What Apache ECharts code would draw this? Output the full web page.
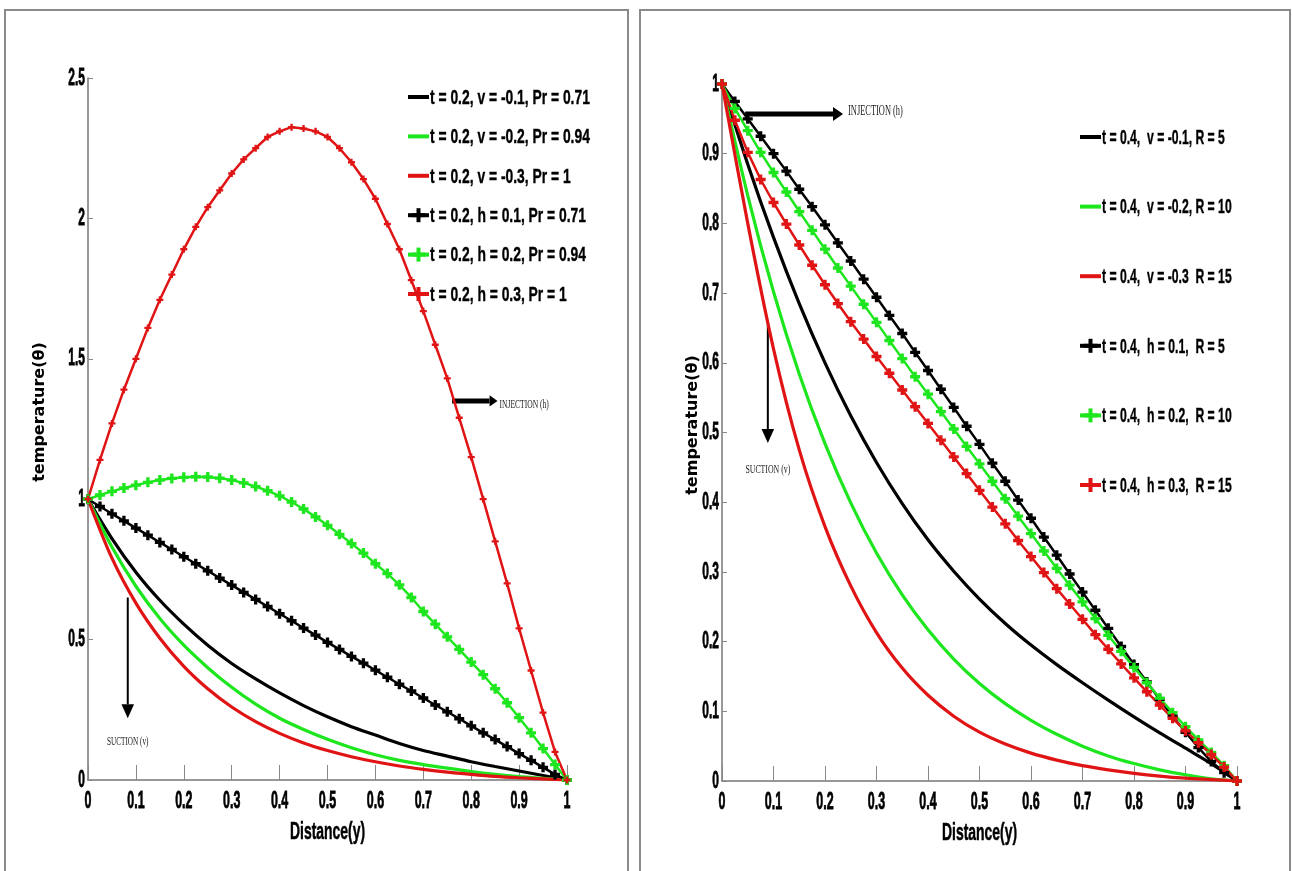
<!DOCTYPE html>
<html><head><meta charset="utf-8">
<script src="https://cdn.jsdelivr.net/npm/echarts@6/dist/echarts.min.js"></script>
<style>html,body{margin:0;padding:0;background:#fff;}#c{width:1292px;height:871px;}</style>
</head><body><div id="c"></div>
<script>
// ---------- shared x grids ----------
const xCoarse = [0,0.05,0.1,0.15,0.2,0.25,0.3,0.35,0.4,0.45,0.5,0.55,0.6,0.65,0.7,0.75,0.8,0.85,0.9,0.95,1];
const xFine = [0,0.025,0.05,0.075,0.1,0.125,0.15,0.175,0.2,0.225,0.25,0.275,0.3,0.325,0.35,0.375,0.4,0.425,0.45,0.475,0.5,
  0.525,0.55,0.575,0.6,0.625,0.65,0.675,0.7,0.725,0.75,0.775,0.8,0.825,0.85,0.875,0.9,0.925,0.95,0.975,1];

// ---------- tick labels ----------
const xTickValues = [0,0.1,0.2,0.3,0.4,0.5,0.6,0.7,0.8,0.9,1];
const xTickLabels = ['0','0.1','0.2','0.3','0.4','0.5','0.6','0.7','0.8','0.9','1'];
const leftYTickValues = [0,0.5,1,1.5,2,2.5];
const leftYTickLabels = ['0','0.5','1','1.5','2','2.5'];
const rightYTickValues = [0,0.1,0.2,0.3,0.4,0.5,0.6,0.7,0.8,0.9,1];
const rightYTickLabels = ['0','0.1','0.2','0.3','0.4','0.5','0.6','0.7','0.8','0.9','1'];
const xTitle = 'Distance(y)';
const yTitle = 'temperature(θ)';

// ---------- left chart series ----------
const leftNames = ['t = 0.2, v = -0.1, Pr = 0.71','t = 0.2, v = -0.2, Pr = 0.94','t = 0.2, v = -0.3, Pr = 1',
  't = 0.2, h = 0.1, Pr = 0.71','t = 0.2, h = 0.2, Pr = 0.94','t = 0.2, h = 0.3, Pr = 1'];
const leftBlackV = [1,0.86,0.74,0.64,0.555,0.48,0.415,0.36,0.31,0.265,0.225,0.19,0.16,0.13,0.105,0.085,0.065,0.048,0.032,0.016,0];
const leftGreenV = [1,0.83,0.69,0.575,0.48,0.40,0.33,0.27,0.22,0.18,0.145,0.115,0.09,0.07,0.055,0.042,0.03,0.02,0.012,0.006,0];
const leftRedV   = [1,0.79,0.63,0.505,0.405,0.325,0.26,0.208,0.166,0.132,0.105,0.083,0.065,0.05,0.038,0.028,0.02,0.013,0.008,0.004,0];
const leftBlackH = [1,0.974,0.948,0.923,0.897,0.872,0.846,0.821,0.795,0.770,0.745,0.719,0.694,0.668,0.643,0.618,0.592,0.567,0.541,0.516,0.490,
  0.465,0.440,0.416,0.391,0.366,0.341,0.317,0.292,0.267,0.243,0.218,0.193,0.168,0.144,0.119,0.094,0.070,0.045,0.020,0];
const leftGreenH = [1,1.015,1.028,1.040,1.050,1.060,1.068,1.074,1.078,1.080,1.079,1.075,1.068,1.058,1.045,1.030,1.012,0.990,0.965,0.937,0.907,
  0.875,0.842,0.808,0.770,0.735,0.695,0.650,0.600,0.555,0.510,0.465,0.420,0.375,0.325,0.275,0.222,0.168,0.112,0.055,0];
const leftRedH = [1,1.14,1.27,1.39,1.50,1.61,1.71,1.80,1.89,1.97,2.04,2.10,2.16,2.21,2.25,2.29,2.31,2.325,2.32,2.31,2.29,
  2.25,2.20,2.14,2.07,1.98,1.89,1.78,1.67,1.55,1.43,1.29,1.15,1.00,0.85,0.70,0.54,0.39,0.24,0.10,0];

// ---------- right chart series ----------
const rightNames = ['t = 0.4,  v = -0.1, R = 5','t = 0.4,  v = -0.2, R = 10','t = 0.4,  v = -0.3  R = 15',
  't = 0.4,  h = 0.1,  R = 5','t = 0.4,  h = 0.2,  R = 10','t = 0.4,  h = 0.3,  R = 15'];
const rightBlackV = [1,0.885,0.78,0.685,0.60,0.524,0.457,0.398,0.346,0.301,0.261,0.226,0.195,0.167,0.141,0.116,0.092,0.069,0.047,0.025,0];
const rightGreenV = [1,0.84,0.702,0.584,0.484,0.399,0.327,0.267,0.217,0.175,0.14,0.111,0.087,0.067,0.05,0.036,0.025,0.016,0.009,0.003,0];
const rightRedV   = [1,0.80,0.62,0.475,0.365,0.28,0.213,0.162,0.123,0.093,0.07,0.053,0.04,0.03,0.022,0.016,0.011,0.007,0.004,0.002,0];
const rightBlackH = [1,0.975,0.950,0.925,0.900,0.875,0.849,0.824,0.798,0.772,0.746,0.720,0.694,0.668,0.642,0.615,0.589,0.562,0.536,0.509,0.483,
  0.456,0.430,0.403,0.377,0.350,0.324,0.297,0.271,0.245,0.219,0.193,0.167,0.142,0.117,0.093,0.070,0.048,0.028,0.012,0];
const rightGreenH = [1,0.965,0.933,0.902,0.873,0.845,0.817,0.790,0.763,0.736,0.710,0.684,0.658,0.632,0.606,0.580,0.555,0.530,0.505,0.480,0.455,
  0.430,0.405,0.380,0.355,0.330,0.305,0.281,0.257,0.233,0.209,0.186,0.163,0.141,0.119,0.098,0.078,0.059,0.041,0.022,0];
const rightRedH = [1,0.948,0.902,0.863,0.830,0.799,0.769,0.740,0.712,0.685,0.659,0.634,0.609,0.585,0.561,0.537,0.513,0.489,0.465,0.441,0.417,
  0.393,0.369,0.345,0.322,0.299,0.276,0.254,0.232,0.210,0.189,0.168,0.148,0.128,0.109,0.090,0.072,0.055,0.038,0.020,0];

// ---------- annotation anchors (data coordinates) ----------
const leftInjection = [[0.76,1.35],[0.855,1.35]];
const leftSuction = [[0.083,0.65],[0.083,0.22]];
const rightInjection = [[0.045,0.957],[0.235,0.957]];
const rightSuction = [[0.089,0.655],[0.089,0.485]];

const BLACK='#000000', GREEN='#1ee61e', RED='#e01414';
const PLUS='path://M3,0H6V3H9V6H6V9H3V6H0V3H3Z';
const SANS='"Liberation Sans",Arial,sans-serif';

function mk(name, xs, ys, color, zig, g, size){
  return {
    type:'line', name, xAxisIndex:g, yAxisIndex:g,
    data: xs.map((x,i)=>[x,ys[i]]),
    showSymbol: zig, symbol: zig?PLUS:'none', symbolSize: size||10,
    smooth: zig?false:0.3,
    lineStyle:{color, width: zig?2.5:3.2},
    itemStyle:{color},
    emphasis:{disabled:true}, animation:false
  };
}

function xAxisCfg(g){
  return {
    gridIndex:g, type:'value', min:0, max:1, interval:0.1,
    axisLine:{lineStyle:{color:'#777', width:1.5}},
    axisTick:{inside:true, length:15, lineStyle:{color:'#888'}},
    splitLine:{show:false}, axisLabel:{show:false}
  };
}
function yAxisCfg(g, max, interval){
  return {
    gridIndex:g, type:'value', min:0, max, interval,
    axisLine:{show:true, lineStyle:{color:'#777', width:1.5}},
    axisTick:{show:true, inside:true, length:5, lineStyle:{color:'#888'}},
    splitLine:{show:false}, axisLabel:{show:false}
  };
}

const chart = echarts.init(document.getElementById('c'), null, {renderer:'canvas'});
const legendColors=[BLACK,GREEN,RED,BLACK,GREEN,RED], zigs=[false,false,false,true,true,true];
chart.setOption({
  backgroundColor:'#ffffff',
  animation:false,
  grid:[
    {left:88, top:78, width:479, height:702},
    {left:722, top:84, width:515, height:697}
  ],
  xAxis:[xAxisCfg(0), xAxisCfg(1)],
  yAxis:[yAxisCfg(0,2.5,0.5), yAxisCfg(1,1,0.1)],
  series:[
    mk(leftNames[0], xCoarse, leftBlackV, BLACK, false, 0),
    mk(leftNames[1], xCoarse, leftGreenV, GREEN, false, 0),
    mk(leftNames[2], xCoarse, leftRedV, RED, false, 0),
    mk(leftNames[3], xFine, leftBlackH, BLACK, true, 0),
    mk(leftNames[4], xFine, leftGreenH, GREEN, true, 0),
    mk(leftNames[5], xFine, leftRedH, RED, true, 0, 7),
    mk(rightNames[0], xCoarse, rightBlackV, BLACK, false, 1),
    mk(rightNames[1], xCoarse, rightGreenV, GREEN, false, 1),
    mk(rightNames[2], xCoarse, rightRedV, RED, false, 1),
    mk(rightNames[3], xFine, rightBlackH, BLACK, true, 1),
    mk(rightNames[4], xFine, rightGreenH, GREEN, true, 1),
    mk(rightNames[5], xFine, rightRedH, RED, true, 1)
  ]
});

function px(g, p){ return chart.convertToPixel({gridIndex:g}, p); }
function hArrow(g, pts, w, head){
  const a=px(g,pts[0]), b=px(g,pts[1]);
  return [
    {type:'line', silent:true, shape:{x1:a[0],y1:a[1],x2:b[0]-head,y2:b[1]}, style:{stroke:'#000', lineWidth:w}},
    {type:'polygon', silent:true, shape:{points:[[b[0]-head,b[1]-head*0.7],[b[0],b[1]],[b[0]-head,b[1]+head*0.7]]}, style:{fill:'#000'}}
  ];
}
function vArrow(g, pts, w, head){
  const a=px(g,pts[0]), b=px(g,pts[1]);
  return [
    {type:'line', silent:true, shape:{x1:a[0],y1:a[1],x2:b[0],y2:b[1]-head}, style:{stroke:'#000', lineWidth:w}},
    {type:'polygon', silent:true, shape:{points:[[b[0]-head*0.45,b[1]-head],[b[0],b[1]],[b[0]+head*0.45,b[1]-head]]}, style:{fill:'#000'}}
  ];
}
function note(g, p, text, dx, dy, align, fs, sx){
  const a=px(g,p);
  return {type:'text', silent:true, x:a[0]+dx, y:a[1]+dy, scaleX:sx,
    style:{text, fontFamily:'"Liberation Serif",serif', fontSize:fs, fill:'#222', align:align||'left', verticalAlign:'middle'}};
}
function txt(x, y, text, fs, sx, align, va, stroke){
  return {type:'text', silent:true, x, y, scaleX:sx,
    style:{text, fontFamily:SANS, fontWeight:'bold', fontSize:fs, fill:'#000', align, verticalAlign:va,
      stroke: stroke?'#000':null, lineWidth: stroke||0}};
}
function axisTexts(g, yVals, yLabs){
  const out=[];
  const origin = px(g,[0,0]);
  xTickValues.forEach((v,i)=>{
    const x = chart.convertToPixel({xAxisIndex:g}, v);
    out.push(txt(x, origin[1]+9, xTickLabels[i], 24, 0.52, 'center', 'top', 0.8));
  });
  yVals.forEach((v,i)=>{
    const y = chart.convertToPixel({yAxisIndex:g}, v);
    out.push(txt(origin[0]-3, y, yLabs[i], 24, 0.5, 'right', 'middle', 0.8));
  });
  const end = px(g,[1,0]);
  out.push(txt((origin[0]+end[0])/2, origin[1]+40, xTitle, 24, 0.58, 'center', 'top', 0.5));
  return out;
}
function yName(x, y){
  return {type:'text', silent:true, x, y, rotation:Math.PI/2,
    style:{text:yTitle, fontFamily:'"DejaVu Sans",sans-serif', fontWeight:'bold', fontSize:16, fill:'#000', align:'center', verticalAlign:'middle'}};
}
function legendItems(names, x0, y0, step, sx){
  const out=[];
  names.forEach((n,i)=>{
    const y=y0+i*step, c=legendColors[i];
    out.push({type:'line', silent:true, shape:{x1:x0,y1:y,x2:x0+21,y2:y}, style:{stroke:c, lineWidth:4}});
    if(zigs[i]){
      out.push({type:'rect', silent:true, shape:{x:x0+8.5,y:y-7,width:4,height:14}, style:{fill:c}});
      out.push({type:'rect', silent:true, shape:{x:x0+3.5,y:y-2,width:14,height:4}, style:{fill:c}});
    }
    out.push(txt(x0+22, y+1, n, 21, sx, 'left', 'middle', 0.4));
  });
  return out;
}

const graphics = [
  {type:'rect', silent:true, shape:{x:5,y:10,width:623,height:880}, style:{fill:'none', stroke:'#8a8a8a', lineWidth:2}},
  {type:'rect', silent:true, shape:{x:640,y:10,width:650,height:880}, style:{fill:'none', stroke:'#8a8a8a', lineWidth:2}},
  ...axisTexts(0, leftYTickValues, leftYTickLabels),
  ...axisTexts(1, rightYTickValues, rightYTickLabels),
  yName(40, 412), yName(693, 425),
  ...legendItems(leftNames, 408, 97, 39.4, 0.66),
  ...legendItems(rightNames, 1080, 137, 69.6, 0.58),
  ...hArrow(0, leftInjection, 5, 8),
  note(0, leftInjection[1], 'INJECTION (h)', 2, 4, 'left', 13, 0.58),
  ...vArrow(0, leftSuction, 2, 14),
  note(0, [leftSuction[1][0], 0.135], 'SUCTION (v)', 0, 0, 'center', 12, 0.6),
  ...hArrow(1, rightInjection, 5, 10),
  note(1, rightInjection[1], 'INJECTION (h)', 5, -3, 'left', 14, 0.6),
  ...vArrow(1, rightSuction, 2, 14),
  note(1, [rightSuction[1][0], 0.447], 'SUCTION (v)', 0, 0, 'center', 12, 0.65)
];
chart.setOption({graphic: graphics});
</script>
</body></html>
